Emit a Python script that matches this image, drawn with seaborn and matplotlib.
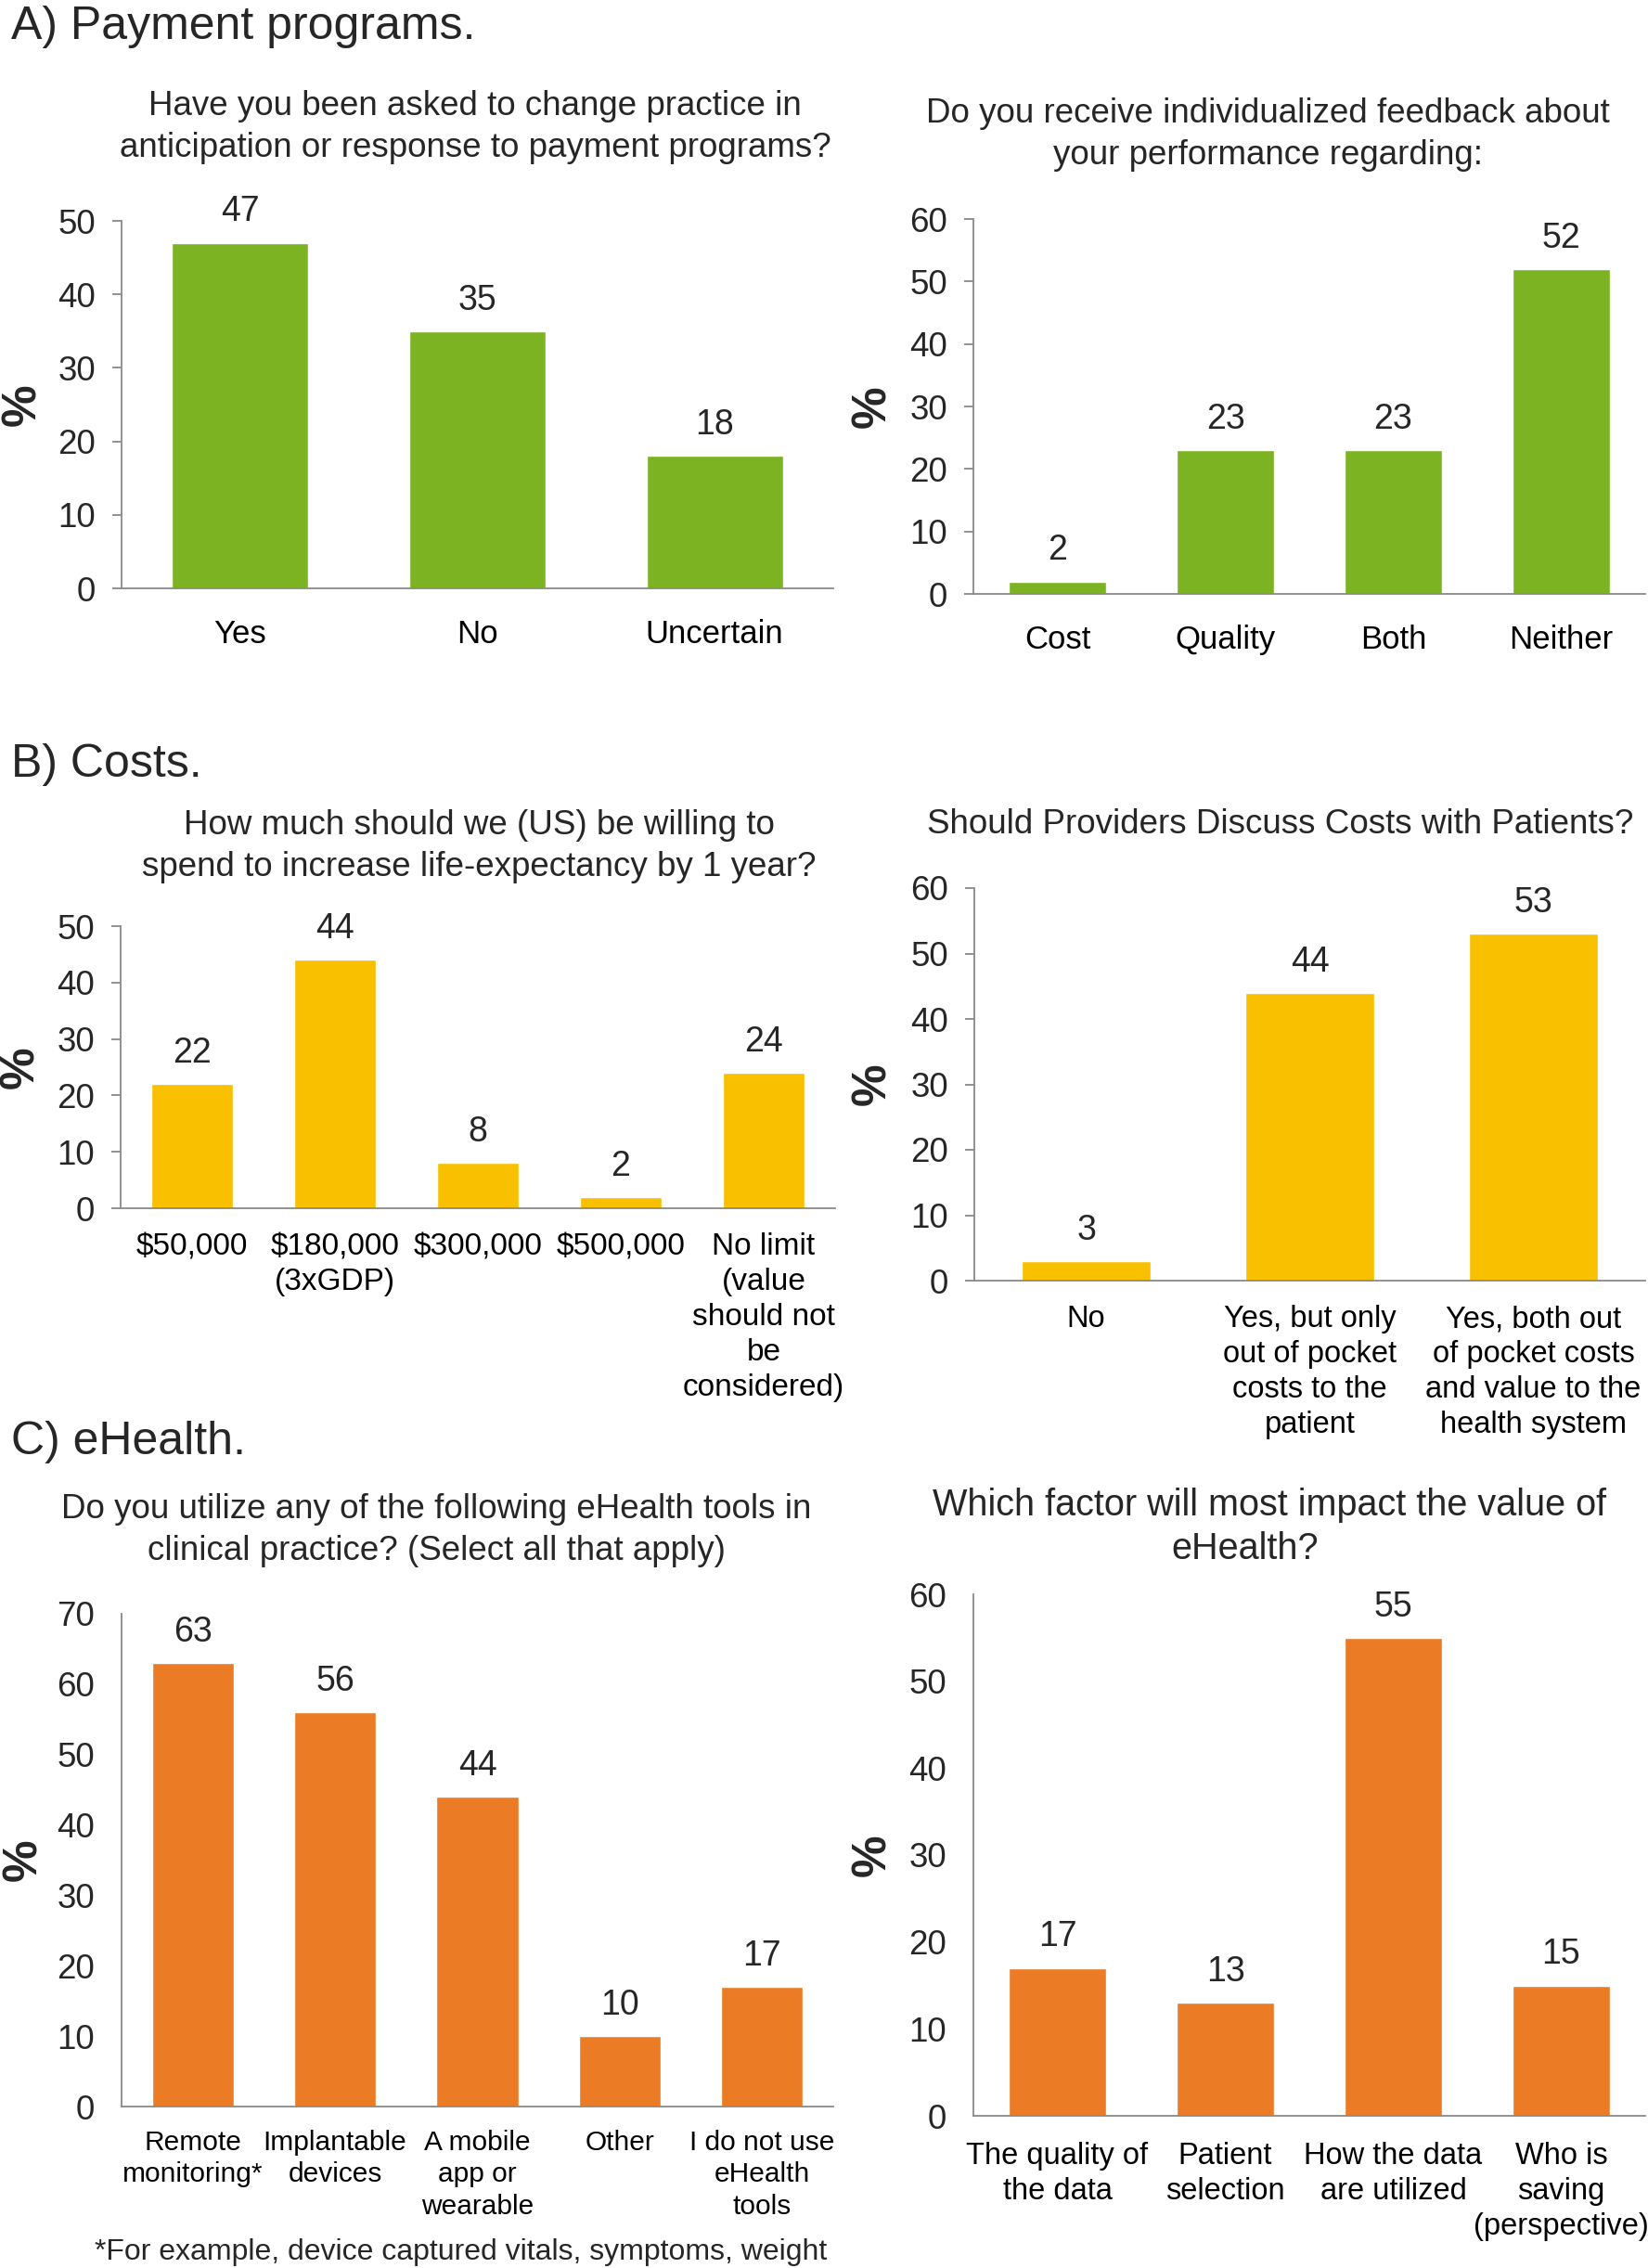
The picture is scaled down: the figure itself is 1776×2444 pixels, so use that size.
import numpy as np
import matplotlib
matplotlib.use("Agg")
import matplotlib.pyplot as plt
import matplotlib.transforms as mtransforms
import seaborn as sns

# ---- data -------------------------------------------------------------
change_cats = ["Yes", "No", "Uncertain"]
change_vals = [47, 35, 18]

feedback_cats = ["Cost", "Quality", "Both", "Neither"]
feedback_vals = [2, 23, 23, 52]

spend_cats = ["$50,000", "$180,000\n(3xGDP)", "$300,000", "$500,000",
              "No limit\n(value\nshould not\nbe\nconsidered)"]
spend_vals = [22, 44, 8, 2, 24]

discuss_cats = ["No", "Yes, but only\nout of pocket\ncosts to the\npatient",
                "Yes, both out\nof pocket costs\nand value to the\nhealth system"]
discuss_vals = [3, 44, 53]

tools_cats = ["Remote\nmonitoring*", "Implantable\ndevices", "A mobile\napp or\nwearable",
              "Other", "I do not use\neHealth\ntools"]
tools_vals = [63, 56, 44, 10, 17]

factor_cats = ["The quality of\nthe data", "Patient\nselection", "How the data\nare utilized",
               "Who is\nsaving\n(perspective)"]
factor_vals = [17, 13, 55, 15]

GREEN = "#7CB322"
YELLOW = "#F9C000"
ORANGE = "#EB7B25"
AXIS_GRAY = "#898989"

W, H = 1776, 2444

sns.set_style("white")
plt.rcParams["font.family"] = ["Liberation Sans", "DejaVu Sans"]
plt.rcParams["text.parse_math"] = False

fig = plt.figure(figsize=(W / 100, H / 100), dpi=100)


def px_axes(left, top, right, bottom):
    return fig.add_axes([left / W, 1 - bottom / H, (right - left) / W, (bottom - top) / H])


def draw_panel(ax, cats, vals, color, ymax, cat_size, cat_pad, ticks=True, label_x=23):
    sns.barplot(x=cats, y=vals, color=color, saturation=1, width=0.575,
                errorbar=None, ax=ax)
    ax.set_xlim(-0.5, len(cats) - 0.5)
    ax.set_ylim(0, ymax)
    ax.set_yticks(np.arange(0, ymax + 1, 10))
    ax.set_xlabel("")
    for side in ["top", "right"]:
        ax.spines[side].set_visible(False)
    for side in ["left", "bottom"]:
        ax.spines[side].set_color(AXIS_GRAY)
        ax.spines[side].set_linewidth(1.3)
    ax.tick_params(axis="x", length=0, pad=cat_pad, labelsize=cat_size, colors="black")
    if ticks:
        ax.tick_params(axis="y", length=7, width=1.3, color=AXIS_GRAY, pad=13,
                       labelsize=26.5, direction="out", left=True)
    else:
        ax.tick_params(axis="y", length=0, pad=21, labelsize=26.5)
    for t in ax.get_xticklabels():
        t.set_linespacing(1.29)
    ax.bar_label(ax.containers[0], labels=[str(v) for v in vals], padding=11,
                 fontsize=27)
    ax.set_ylabel("%", fontsize=37, fontweight="bold", va="center")
    trans = mtransforms.blended_transform_factory(fig.transFigure, ax.transAxes)
    ax.yaxis.set_label_coords(label_x / W, 0.5, transform=trans)


def panel_title(x, y, text, size=26.5):
    fig.text(x / W, 1 - y / H, text, ha="center", va="center", fontsize=size,
             linespacing=1.36)


# section headers
fig.text(12 / W, 1 - 42 / H, "A) Payment programs.", fontsize=36, va="baseline")
fig.text(12 / W, 1 - 837 / H, "B) Costs.", fontsize=36, va="baseline")
fig.text(12 / W, 1 - 1567 / H, "C) eHealth.", fontsize=36, va="baseline")

# A) payment programs
ax1 = px_axes(131, 238, 898, 634)
draw_panel(ax1, change_cats, change_vals, GREEN, 50, 25, 24, label_x=25)
panel_title(512, 137, "Have you been asked to change practice in\n"
                      "anticipation or response to payment programs?")

ax2 = px_axes(1049, 236, 1773, 640)
draw_panel(ax2, feedback_cats, feedback_vals, GREEN, 60, 25, 24, label_x=941)
panel_title(1366, 145, "Do you receive individualized feedback about\n"
                       "your performance regarding:")

# B) costs
ax3 = px_axes(130, 998, 900, 1302)
draw_panel(ax3, spend_cats, spend_vals, YELLOW, 50, 24, 19, label_x=23)
panel_title(516, 912, "How much should we (US) be willing to\n"
                      "spend to increase life-expectancy by 1 year?")

ax4 = px_axes(1050, 957, 1773, 1380)
draw_panel(ax4, discuss_cats, discuss_vals, YELLOW, 60, 23.5, 19, label_x=941)
panel_title(1380, 889, "Should Providers Discuss Costs with Patients?")

# C) eHealth
ax5 = px_axes(131, 1739, 898, 2270)
draw_panel(ax5, tools_cats, tools_vals, ORANGE, 70, 21.5, 18, ticks=False, label_x=26)
panel_title(470, 1649, "Do you utilize any of the following eHealth tools in\n"
                       "clinical practice? (Select all that apply)")

ax6 = px_axes(1049, 1718, 1773, 2280)
draw_panel(ax6, factor_cats, factor_vals, ORANGE, 60, 23.5, 20, ticks=False, label_x=941)
# this title's second line sits a little left of the first in the original
panel_title(1368, 1622, "Which factor will most impact the value of", size=28.5)
panel_title(1342, 1669, "eHealth?", size=28.5)

fig.text(497 / W, 1 - 2427 / H, "*For example, device captured vitals, symptoms, weight",
         ha="center", va="center", fontsize=23)

fig.savefig("out.png", dpi=100, facecolor="white")
